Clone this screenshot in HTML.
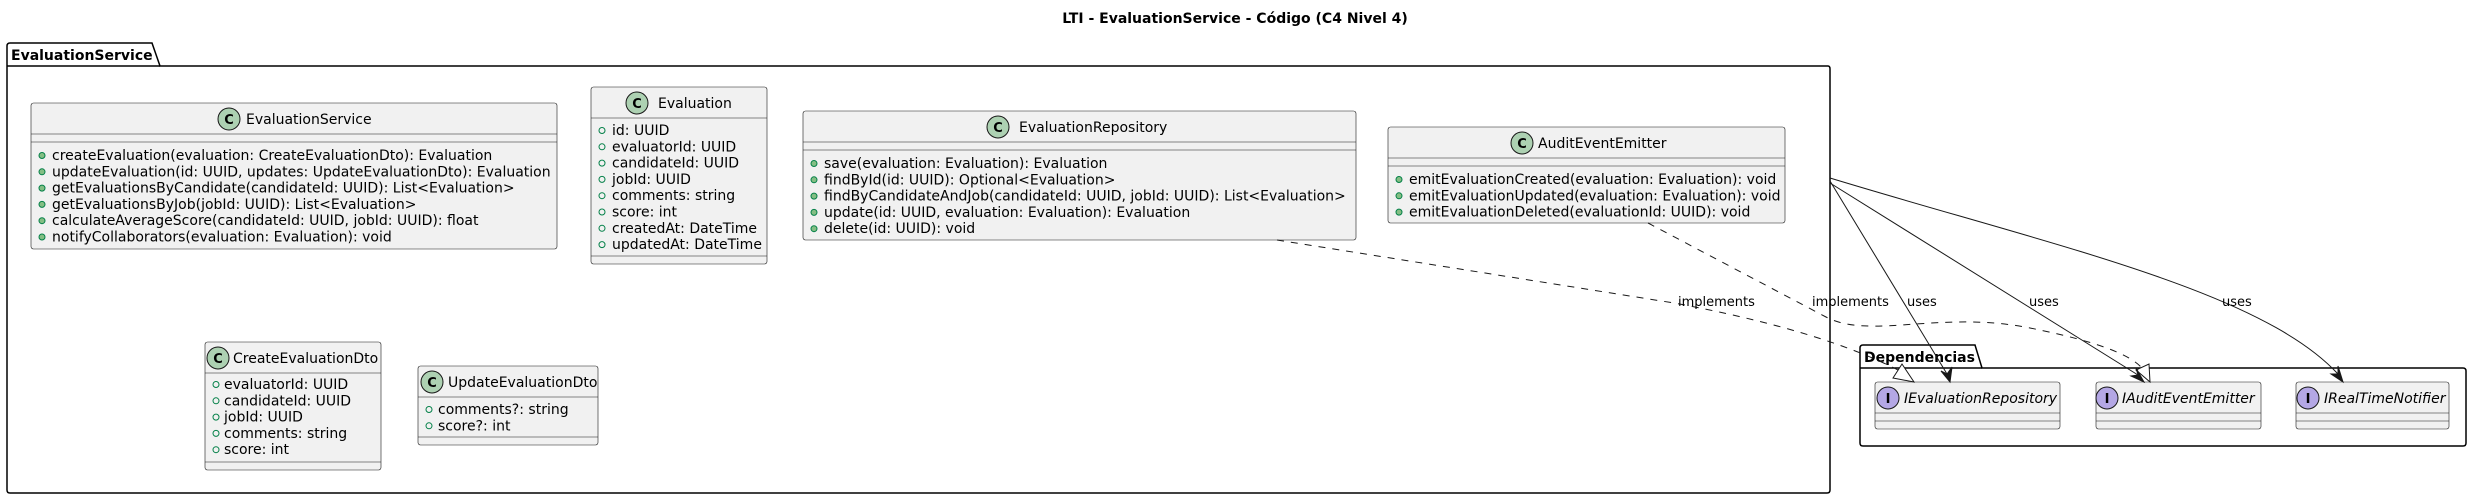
<!DOCTYPE html>
<html><head><meta charset="utf-8"><style>
html,body{margin:0;padding:0;background:#fff;}
svg{display:block;}
text{font-family:"DejaVu Sans","Liberation Sans",sans-serif;font-size:14px;fill:#000;}
.b{fill:#F1F1F1;stroke:#181818;stroke-width:0.6;}
.s{stroke:#181818;stroke-width:0.6;}
.m{fill:#84BE84;stroke:#038048;stroke-width:1;}
.a{fill:none;stroke:#038048;stroke-width:1;}
.cc{fill:#ADD1B2;stroke:#181818;stroke-width:1;}
.ic{fill:#B4A7E5;stroke:#181818;stroke-width:1;}
.L{fill:#000;font-weight:bold;font-size:14px;}
.ln{fill:none;stroke:#181818;stroke-width:1;}
.dl{fill:none;stroke:#181818;stroke-width:1;stroke-dasharray:7,7;}
.lbl{font-size:13px;}
</style></head><body>
<svg width="2470" height="500" viewBox="0 0 2470 500" xmlns="http://www.w3.org/2000/svg">
<text x="1235" y="23" text-anchor="middle" style="font-weight:bold">LTI - EvaluationService - Código (C4 Nivel 4)</text>

<path d="M7,66 L7,46 Q7,43 10,43 L152,43 L160,66 L1828,66 Q1830,66 1830,69 L1830,490 Q1830,493 1827,493 L10,493 Q7,493 7,490 Z" fill="none" stroke="#000" stroke-width="1.5"/>
<line x1="7" y1="66" x2="160" y2="66" stroke="#000" stroke-width="1.5"/>
<text x="11" y="60" class="L">EvaluationService</text>

<path d="M1860,368 L1860,348 Q1860,345 1863,345 L1975,345 L1982,368 L2463,368 Q2466,368 2466,371 L2466,443 Q2466,446 2463,446 L1863,446 Q1860,446 1860,443 Z" fill="none" stroke="#000" stroke-width="1.5"/>
<line x1="1860" y1="368" x2="1982" y2="368" stroke="#000" stroke-width="1.5"/>
<text x="1864" y="362" class="L">Dependencias</text>

<rect class="b" x="31" y="103" width="526" height="146" rx="2.5"/>
<line class="s" x1="31" y1="134" x2="557" y2="134"/><line class="s" x1="31" y1="142" x2="557" y2="142"/>
<circle class="cc" cx="229" cy="119" r="11"/><text x="229" y="124" text-anchor="middle" style="font-weight:bold;font-size:13px">C</text>
<text x="246" y="124">EvaluationService</text>
<g>
<circle class="m" cx="42" cy="155.5" r="3"/><text x="52" y="160">createEvaluation(evaluation: CreateEvaluationDto): Evaluation</text>
<circle class="m" cx="42" cy="171.8" r="3"/><text x="52" y="176.3">updateEvaluation(id: UUID, updates: UpdateEvaluationDto): Evaluation</text>
<circle class="m" cx="42" cy="188.1" r="3"/><text x="52" y="192.6">getEvaluationsByCandidate(candidateId: UUID): List&lt;Evaluation&gt;</text>
<circle class="m" cx="42" cy="204.4" r="3"/><text x="52" y="208.9">getEvaluationsByJob(jobId: UUID): List&lt;Evaluation&gt;</text>
<circle class="m" cx="42" cy="220.7" r="3"/><text x="52" y="225.2">calculateAverageScore(candidateId: UUID, jobId: UUID): float</text>
<circle class="m" cx="42" cy="237" r="3"/><text x="52" y="241.5">notifyCollaborators(evaluation: Evaluation): void</text>
</g>

<rect class="b" x="591" y="87" width="176" height="177" rx="2.5"/>
<line class="s" x1="591" y1="118" x2="767" y2="118"/><line class="s" x1="591" y1="256" x2="767" y2="256"/>
<circle class="cc" cx="637" cy="103" r="11"/><text x="637" y="108" text-anchor="middle" style="font-weight:bold;font-size:13px">C</text>
<text x="658" y="108">Evaluation</text>
<circle class="a" cx="602" cy="130.5" r="3"/><text x="612" y="135">id: UUID</text>
<circle class="a" cx="602" cy="146.8" r="3"/><text x="612" y="151.3">evaluatorId: UUID</text>
<circle class="a" cx="602" cy="163.1" r="3"/><text x="612" y="167.6">candidateId: UUID</text>
<circle class="a" cx="602" cy="179.4" r="3"/><text x="612" y="183.9">jobId: UUID</text>
<circle class="a" cx="602" cy="195.7" r="3"/><text x="612" y="200.2">comments: string</text>
<circle class="a" cx="602" cy="212" r="3"/><text x="612" y="216.5">score: int</text>
<circle class="a" cx="602" cy="228.3" r="3"/><text x="612" y="232.8">createdAt: DateTime</text>
<circle class="a" cx="602" cy="244.6" r="3"/><text x="612" y="249.1">updatedAt: DateTime</text>

<rect class="b" x="803" y="111" width="553" height="129" rx="2.5"/>
<line class="s" x1="803" y1="142" x2="1356" y2="142"/><line class="s" x1="803" y1="150" x2="1356" y2="150"/>
<circle class="cc" cx="998" cy="127" r="11"/><text x="998" y="132" text-anchor="middle" style="font-weight:bold;font-size:13px">C</text>
<text x="1019" y="132">EvaluationRepository</text>
<circle class="m" cx="814" cy="163.5" r="3"/><text x="824" y="168">save(evaluation: Evaluation): Evaluation</text>
<circle class="m" cx="814" cy="179.8" r="3"/><text x="824" y="184.3">findById(id: UUID): Optional&lt;Evaluation&gt;</text>
<circle class="m" cx="814" cy="196.1" r="3"/><text x="824" y="200.6">findByCandidateAndJob(candidateId: UUID, jobId: UUID): List&lt;Evaluation&gt;</text>
<circle class="m" cx="814" cy="212.4" r="3"/><text x="824" y="216.9">update(id: UUID, evaluation: Evaluation): Evaluation</text>
<circle class="m" cx="814" cy="228.7" r="3"/><text x="824" y="233.2">delete(id: UUID): void</text>

<rect class="b" x="1388" y="127" width="397" height="96" rx="2.5"/>
<line class="s" x1="1388" y1="158" x2="1785" y2="158"/><line class="s" x1="1388" y1="166" x2="1785" y2="166"/>
<circle class="cc" cx="1522" cy="143" r="11"/><text x="1522" y="148" text-anchor="middle" style="font-weight:bold;font-size:13px">C</text>
<text x="1538" y="148">AuditEventEmitter</text>
<circle class="m" cx="1399" cy="179.5" r="3"/><text x="1409" y="184">emitEvaluationCreated(evaluation: Evaluation): void</text>
<circle class="m" cx="1399" cy="195.8" r="3"/><text x="1409" y="200.3">emitEvaluationUpdated(evaluation: Evaluation): void</text>
<circle class="m" cx="1399" cy="212.1" r="3"/><text x="1409" y="216.6">emitEvaluationDeleted(evaluationId: UUID): void</text>

<rect class="b" x="205" y="342" width="176" height="128" rx="2.5"/>
<line class="s" x1="205" y1="373" x2="381" y2="373"/><line class="s" x1="205" y1="462" x2="381" y2="462"/>
<circle class="cc" cx="218" cy="358" r="11"/><text x="218" y="363" text-anchor="middle" style="font-weight:bold;font-size:13px">C</text>
<text x="233" y="363">CreateEvaluationDto</text>
<circle class="a" cx="216" cy="384.5" r="3"/><text x="224" y="389">evaluatorId: UUID</text>
<circle class="a" cx="216" cy="400.8" r="3"/><text x="224" y="405.3">candidateId: UUID</text>
<circle class="a" cx="216" cy="417.1" r="3"/><text x="224" y="421.6">jobId: UUID</text>
<circle class="a" cx="216" cy="433.4" r="3"/><text x="224" y="437.9">comments: string</text>
<circle class="a" cx="216" cy="449.7" r="3"/><text x="224" y="454.2">score: int</text>

<rect class="b" x="418" y="366" width="180" height="79" rx="2.5"/>
<line class="s" x1="418" y1="397" x2="598" y2="397"/><line class="s" x1="418" y1="437" x2="598" y2="437"/>
<circle class="cc" cx="432" cy="382" r="11"/><text x="432" y="387" text-anchor="middle" style="font-weight:bold;font-size:13px">C</text>
<text x="448" y="387">UpdateEvaluationDto</text>
<circle class="a" cx="429" cy="409.5" r="3"/><text x="438" y="414">comments?: string</text>
<circle class="a" cx="429" cy="425.8" r="3"/><text x="438" y="430.3">score?: int</text>

<rect class="b" x="1875" y="382" width="185" height="47" rx="2.5"/>
<line class="s" x1="1875" y1="413" x2="2060" y2="413"/><line class="s" x1="1875" y1="421" x2="2060" y2="421"/>
<circle class="ic" cx="1888" cy="398" r="11"/><text x="1888" y="403" text-anchor="middle" style="font-weight:bold;font-size:13px">I</text>
<text x="1904" y="403" style="font-style:italic">IEvaluationRepository</text>

<rect class="b" x="2096" y="382" width="165" height="47" rx="2.5"/>
<line class="s" x1="2096" y1="413" x2="2261" y2="413"/><line class="s" x1="2096" y1="421" x2="2261" y2="421"/>
<circle class="ic" cx="2107" cy="398" r="11"/><text x="2107" y="403" text-anchor="middle" style="font-weight:bold;font-size:13px">I</text>
<text x="2122" y="403" style="font-style:italic">IAuditEventEmitter</text>

<rect class="b" x="2296" y="382" width="153" height="47" rx="2.5"/>
<line class="s" x1="2296" y1="413" x2="2449" y2="413"/><line class="s" x1="2296" y1="421" x2="2449" y2="421"/>
<circle class="ic" cx="2308" cy="398" r="11"/><text x="2308" y="403" text-anchor="middle" style="font-weight:bold;font-size:13px">I</text>
<text x="2324" y="403" style="font-style:italic">IRealTimeNotifier</text>

<path class="dl" d="M1277,240 L1674,303 Q1820,330 1898,370"/>
<polygon points="1914,382 1893,378 1902,364" fill="#fff" stroke="#181818" stroke-width="1"/>
<text x="1678" y="306" class="lbl">implements</text>

<path class="dl" d="M1648,223 L1826,317 C1870,340 1940,310 2030,328 C2100,342 2130,355 2142,368"/>
<polygon points="2150,382 2136,370 2149,364" fill="#fff" stroke="#181818" stroke-width="1"/>
<text x="1812" y="306" class="lbl">implements</text>

<path class="ln" d="M1830,181 L1947,374"/>
<polygon points="1950,382 1941,371 1947,374 1952,367" fill="#181818" stroke="#181818"/>
<text x="1907" y="306" class="lbl">uses</text>

<path class="ln" d="M1830,183 L2138,375"/>
<polygon points="2144,382 2131,376 2138,375 2136,368" fill="#181818" stroke="#181818"/>
<text x="2029" y="306" class="lbl">uses</text>

<path class="ln" d="M1830,178 C2050,245 2260,290 2338,374"/>
<polygon points="2343,382 2331,374 2338,374 2338,366" fill="#181818" stroke="#181818"/>
<text x="2222" y="306" class="lbl">uses</text>
</svg>
</body></html>
